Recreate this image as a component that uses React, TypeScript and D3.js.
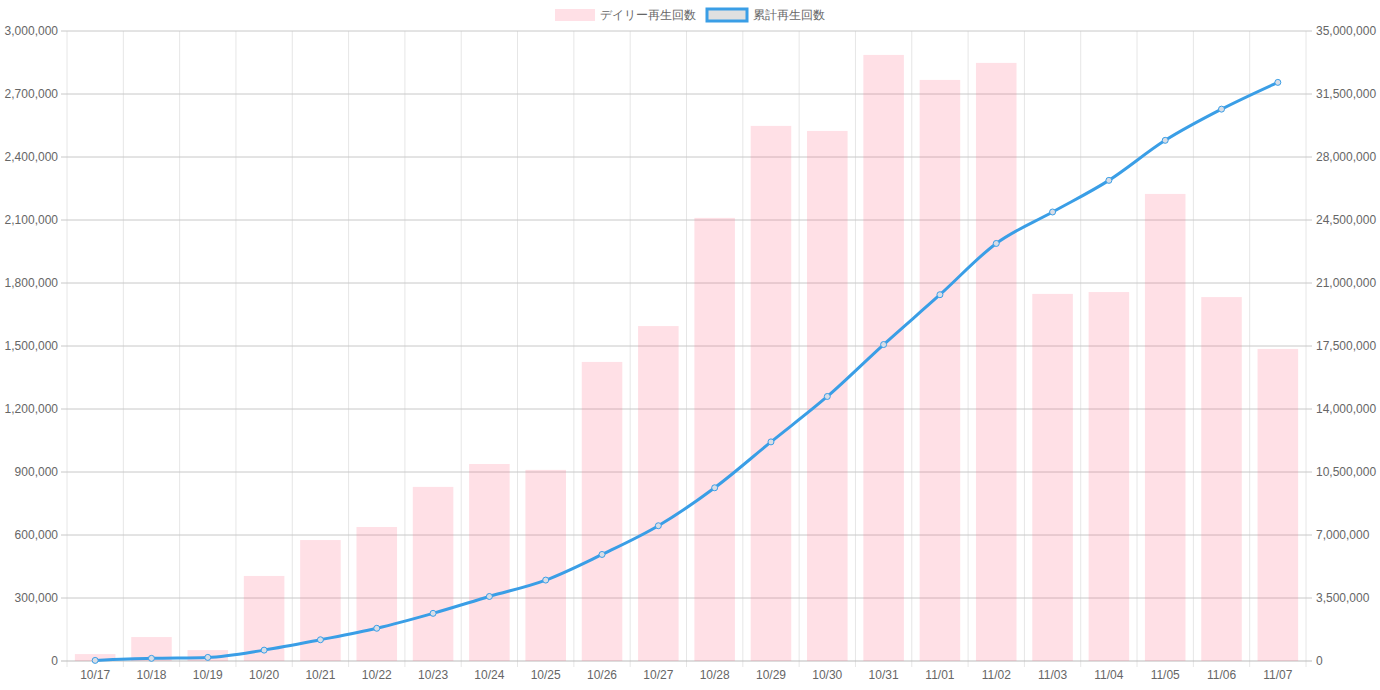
import * as d3 from "d3";

const categories = ["10/17","10/18","10/19","10/20","10/21","10/22","10/23","10/24","10/25","10/26","10/27","10/28","10/29","10/30","10/31","11/01","11/02","11/03","11/04","11/05","11/06","11/07"];
const daily = [33000,114000,52000,405000,576000,638000,829000,938000,910000,1424000,1595000,2110000,2548000,2524000,2886000,2767000,2848000,1748000,1757000,2224000,1733000,1486000];
const cumulative = [33000,147000,199000,604000,1180000,1818000,2647000,3585000,4495000,5919000,7514000,9624000,12172000,14696000,17582000,20349000,23197000,24945000,26702000,28926000,30659000,32145000];
const leftTicks = [0,300000,600000,900000,1200000,1500000,1800000,2100000,2400000,2700000,3000000];
const rightTicks = [0,3500000,7000000,10500000,14000000,17500000,21000000,24500000,28000000,31500000,35000000];

const W = 1380, H = 690;
const m = { left: 67, right: 74, top: 31, bottom: 29 };

export default function App() {
  const x = d3.scaleBand<string>().domain(categories).range([m.left, W - m.right]);
  const yL = d3.scaleLinear().domain([0, 3000000]).range([H - m.bottom, m.top]);
  const yR = d3.scaleLinear().domain([0, 35000000]).range([H - m.bottom, m.top]);
  const fmt = d3.format(",");
  const bw = x.bandwidth() * 0.72;
  const cx = (c: string) => (x(c) ?? 0) + x.bandwidth() / 2;
  const line = d3.line<number>().x((_, i) => cx(categories[i])).y((d) => yR(d)).curve(d3.curveMonotoneX);
  const font = "Helvetica, Arial, sans-serif";
  return (
    <svg width={W} height={H} style={{ position: "absolute", left: 0, top: 0, fontFamily: font }}>
      {categories.map((c, i) => (
        <line key={"v" + i} x1={x(c)} x2={x(c)} y1={m.top} y2={H - m.bottom + 6} stroke="#e6e6e6" />
      ))}
      <line x1={W - m.right} x2={W - m.right} y1={m.top} y2={H - m.bottom + 6} stroke="#e6e6e6" />
      {leftTicks.map((t, i) => (
        <g key={"h" + i}>
          <line x1={m.left - 6} x2={W - m.right + 6} y1={yL(t)} y2={yL(t)} stroke={i === 0 ? "#bbb" : "#c8c8c8"} />
          <text x={m.left - 9} y={yL(t)} dy="0.35em" textAnchor="end" fontSize={12} fill="#666">{fmt(t)}</text>
        </g>
      ))}
      {rightTicks.map((t, i) => (
        <text key={"r" + i} x={W - m.right + 10} y={yR(t)} dy="0.35em" fontSize={12} fill="#666">{fmt(t)}</text>
      ))}
      {categories.map((c, i) => (
        <text key={"x" + i} x={cx(c)} y={H - m.bottom + 18} textAnchor="middle" fontSize={12} fill="#666">{c}</text>
      ))}
      {daily.map((d, i) => (
        <rect key={"b" + i} x={cx(categories[i]) - bw / 2} y={yL(d)} width={bw} height={yL(0) - yL(d)} fill="rgba(255,99,132,0.2)" />
      ))}
      <path d={line(cumulative) ?? ""} fill="none" stroke="#3a9ee6" strokeWidth={3} />
      {cumulative.map((d, i) => (
        <circle key={"p" + i} cx={cx(categories[i])} cy={yR(d)} r={3} fill="#d8dde6" stroke="#3a9ee6" strokeWidth={1} />
      ))}
      <g fontSize={12} fill="#666">
        <rect x={555} y={9} width={40} height={12} fill="rgba(255,99,132,0.2)" />
        <text x={600} y={15} dy="0.35em">デイリー再生回数</text>
        <rect x={707} y={9} width={40} height={12} fill="#e0e0e0" stroke="#3a9ee6" strokeWidth={3} />
        <text x={753} y={15} dy="0.35em">累計再生回数</text>
      </g>
    </svg>
  );
}
